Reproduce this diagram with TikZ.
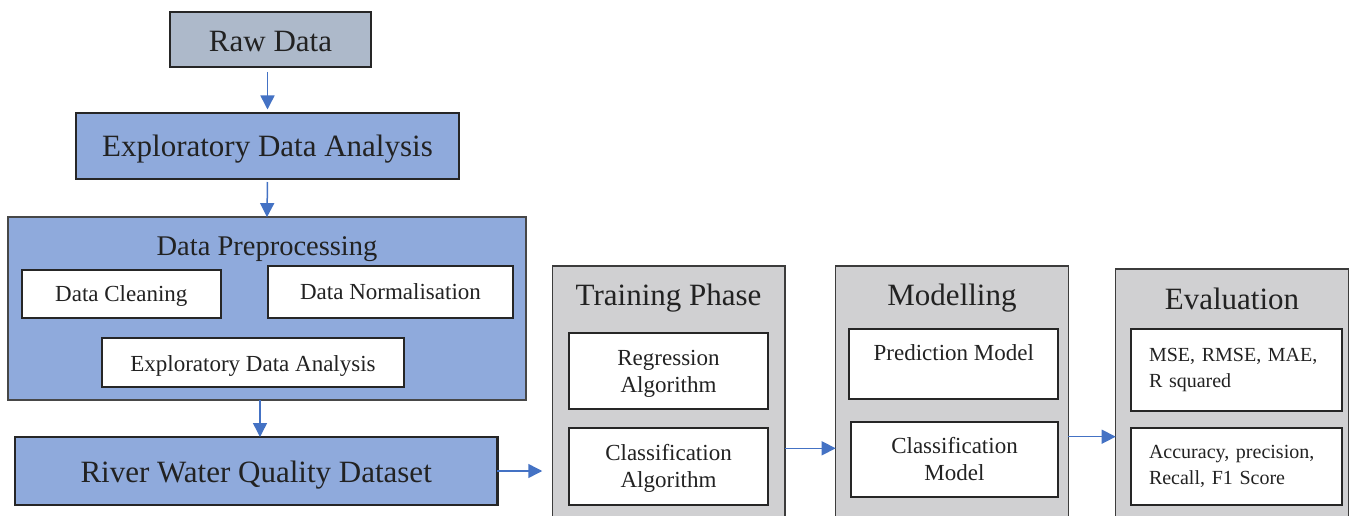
\documentclass[tikz,border=0pt]{standalone}
\usepackage{fontspec}
\setmainfont{Liberation Serif}
\usetikzlibrary{arrows.meta,calc}
\definecolor{rawfill}{HTML}{ADB9CA}
\definecolor{bluefill}{HTML}{8FAADC}
\definecolor{grayfill}{HTML}{D0D0D2}
\definecolor{arrowblue}{HTML}{4472C4}
\definecolor{edgecol}{HTML}{262626}
\definecolor{txtcol}{HTML}{222222}
\begin{document}
\begin{tikzpicture}[x=1pt,y=-1pt,
  every node/.style={text=txtcol, inner sep=0pt, outer sep=0pt},
  bigfont/.style={font=\fontsize{31}{37}\selectfont},
  midfont/.style={font=\fontsize{28.5}{34}\selectfont},
  smallfont/.style={font=\fontsize{23}{27}\selectfont},
  tinyfont/.style={font=\fontsize{20}{25.5}\selectfont},
  bl/.style={text height=#1, text depth=0pt},
  mainbox/.style={draw=edgecol, line width=2.6pt, rectangle, bigfont},
  prepbox/.style={draw=edgecol!85, line width=1.5pt, rectangle, fill=bluefill},
  whitebox/.style={draw=edgecol, line width=2pt, rectangle, fill=white, align=center},
  panel/.style={draw=edgecol!90, line width=1.5pt, rectangle, fill=grayfill},
  arr/.style={draw=arrowblue, line width=1.5pt, -{Triangle[length=14pt,width=14pt]}}
]
\clip (0,0) rectangle (1354,516);
\useasboundingbox (0,0) rectangle (1354,516);
\fill[white] (0,0) rectangle (1354,516);

% left column
\node[mainbox, fill=rawfill, bl=25pt, minimum width=201pt, minimum height=55pt] (raw) at (270.5,39.5) {Raw Data};
\node[mainbox, fill=bluefill, bl=22pt, minimum width=383pt, minimum height=66pt] (eda) at (267.5,146) {Exploratory Data Analysis};
\node[prepbox, minimum width=518pt, minimum height=183pt] (prep) at (267,308.6) {};
\node[midfont, bl=20pt] (preptitle) at (267,245) {Data Preprocessing};
\node[whitebox, smallfont, bl=15.1pt, minimum width=198.7pt, minimum height=48.3pt] (clean) at (121.3,294.15) {Data Cleaning};
\node[whitebox, smallfont, bl=14.3pt, minimum width=245pt, minimum height=52.3pt] (norm) at (390.5,292.15) {Data Normalisation};
\node[whitebox, smallfont, bl=19pt, minimum width=302.6pt, minimum height=49pt] (edain) at (253,362.2) {Exploratory Data Analysis};
\node[mainbox, fill=bluefill, bl=22pt, minimum width=482.3pt, minimum height=68pt] (river) at (256.2,471) {River Water Quality Dataset};

% training phase
\node[panel, minimum width=232.7pt, minimum height=264pt] (tp) at (668.6,398) {};
\node[bigfont, bl=20pt] (tptitle) at (668.6,295) {Training Phase};
\node[whitebox, smallfont, minimum width=198.4pt, minimum height=76pt] (reg) at (668.5,371.3) {\rule{0pt}{19.4pt}Regression\\Algorithm};
\node[whitebox, smallfont, minimum width=198.4pt, minimum height=76.7pt] (clsalg) at (668.5,466.65) {\rule{0pt}{18.7pt}Classification\\Algorithm};

% modelling
\node[panel, minimum width=232.6pt, minimum height=264pt] (mod) at (952,398) {};
\node[bigfont, bl=20pt] (modtitle) at (952,295) {Modelling};
\node[whitebox, smallfont, minimum width=209pt, minimum height=70.3pt] (pred) at (953.8,364.2) {\rule{0pt}{19.9pt}Prediction Model\\\mbox{}};
\node[whitebox, smallfont, minimum width=207.6pt, minimum height=75.6pt] (clsmod) at (954.5,459.5) {Classification\\Model};

% evaluation
\node[panel, minimum width=232.6pt, minimum height=262pt] (eval) at (1232,400) {};
\node[bigfont, bl=20pt] (evaltitle) at (1232,299.3) {Evaluation};
\node[whitebox, tinyfont, align=left, minimum width=211.6pt, minimum height=81.7pt, text width=175pt] (mse) at (1236.5,369.85) {MSE, RMSE, MAE,\\R squared};
\node[whitebox, tinyfont, align=left, minimum width=211.6pt, minimum height=76.7pt, text width=175pt] (acc) at (1236.5,466.65) {Accuracy, precision,\\Recall, F1 Score};

% connectors
\draw[arr, shorten <=5pt, shorten >=3.5pt] (eda.north |- raw.south) -- (eda.north);
\draw[arr, shorten <=3pt] (eda.south) -- (prep.north);
\draw[arr] ([xshift=-7pt]prep.south) -- ([xshift=-7pt]prep.south |- river.north);
\draw[arr, shorten >=10pt] (river.east) -- (river.east -| tp.west);
\draw[arr] ([yshift=-50.3pt]tp.east) -- ([yshift=-50.3pt]tp.east -| mod.west);
\draw[arr] ([yshift=-38.7pt]mod.east) -- ([yshift=-38.7pt]mod.east -| eval.west);
\end{tikzpicture}
\end{document}
